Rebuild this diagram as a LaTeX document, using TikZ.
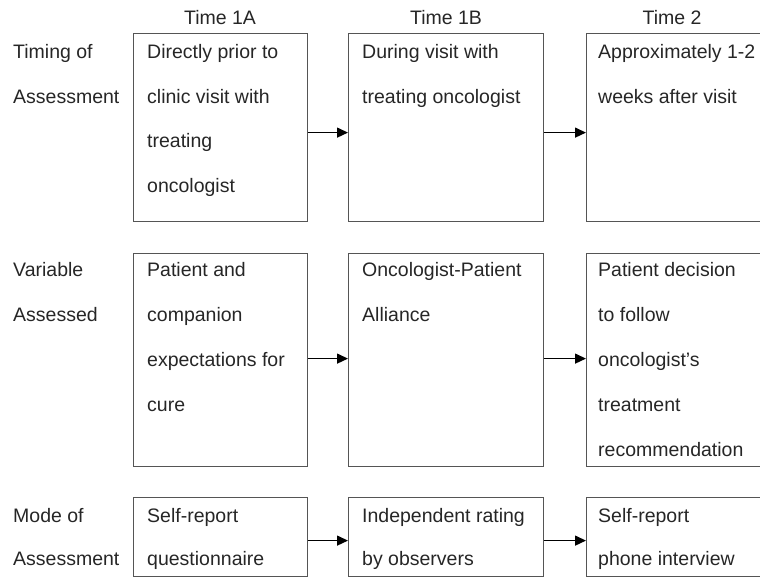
\documentclass[tikz,border=0pt]{standalone}
\usepackage{fontspec}
\setmainfont{Liberation Sans}
\usetikzlibrary{arrows.meta}
\definecolor{boxgray}{HTML}{555555}
\tikzset{
  cell/.style={draw=boxgray, line width=1.2pt, anchor=north west, inner sep=0pt},
  txt/.style={anchor=base west, inner sep=0pt, font=\fontsize{19.5}{22}\selectfont, text=black!85},
  head/.style={anchor=base, inner sep=0pt, font=\fontsize{19.5}{22}\selectfont, text=black!85},
  arr/.style={draw=black, line width=1.4pt, -{Triangle[length=11pt,width=10pt]}}
}
\begin{document}
\begin{tikzpicture}[x=1pt,y=-1pt]
\clip (0,0) rectangle (760,581);
% headers
\node[head] (h1) at (220,24) {Time 1A};
\node[head] (h2) at (446,24) {Time 1B};
\node[head] (h3) at (672,24) {Time 2};
% boxes
\node[cell, minimum width=174pt, minimum height=188pt] (b11) at (133,33) {};
\node[cell, minimum width=195pt, minimum height=188pt] (b12) at (348,33) {};
\node[cell, minimum width=180pt, minimum height=188pt] (b13) at (586,33) {};
\node[cell, minimum width=174pt, minimum height=213pt] (b21) at (133,253) {};
\node[cell, minimum width=195pt, minimum height=213pt] (b22) at (348,253) {};
\node[cell, minimum width=180pt, minimum height=213pt] (b23) at (586,253) {};
\node[cell, minimum width=174pt, minimum height=79pt] (b31) at (133,497) {};
\node[cell, minimum width=195pt, minimum height=79pt] (b32) at (348,497) {};
\node[cell, minimum width=180pt, minimum height=79pt] (b33) at (586,497) {};
% row labels
\foreach \t [count=\i] in {Timing of, Assessment}
  \node[txt] (r1-\i) at (13,{58.5+44.5*(\i-1)}) {\t};
\foreach \t [count=\i] in {Variable, Assessed}
  \node[txt] (r2-\i) at (13,{276+45*(\i-1)}) {\t};
\foreach \t [count=\i] in {Mode of, Assessment}
  \node[txt] (r3-\i) at (13,{522.5+43*(\i-1)}) {\t};
% row 1 texts
\foreach \t [count=\i] in {Directly prior to, clinic visit with, treating, oncologist}
  \node[txt] (t11-\i) at (147,{58.5+44.5*(\i-1)}) {\t};
\foreach \t [count=\i] in {During visit with, treating oncologist}
  \node[txt] (t12-\i) at (362,{58.5+44.5*(\i-1)}) {\t};
\foreach \t [count=\i] in {Approximately 1-2, weeks after visit}
  \node[txt] (t13-\i) at (598,{58.5+44.5*(\i-1)}) {\t};
% row 2 texts
\foreach \t [count=\i] in {Patient and, companion, expectations for, cure}
  \node[txt] (t21-\i) at (147,{276+45*(\i-1)}) {\t};
\foreach \t [count=\i] in {Oncologist-Patient, Alliance}
  \node[txt] (t22-\i) at (362,{276+45*(\i-1)}) {\t};
\foreach \t [count=\i] in {Patient decision, to follow, oncologist’s, treatment, recommendation}
  \node[txt] (t23-\i) at (598,{276+45*(\i-1)}) {\t};
% row 3 texts
\foreach \t [count=\i] in {Self-report, questionnaire}
  \node[txt] (t31-\i) at (147,{522.5+43*(\i-1)}) {\t};
\foreach \t [count=\i] in {Independent rating, by observers}
  \node[txt] (t32-\i) at (362,{522.5+43*(\i-1)}) {\t};
\foreach \t [count=\i] in {Self-report, phone interview}
  \node[txt] (t33-\i) at (598,{522.5+43*(\i-1)}) {\t};
% arrows
\draw[arr] ([yshift=-5pt]b11.east) -- ([yshift=-5pt]b12.west);
\draw[arr] ([yshift=-5pt]b12.east) -- ([yshift=-5pt]b13.west);
\draw[arr] ([yshift=1.5pt]b21.east) -- ([yshift=1.5pt]b22.west);
\draw[arr] ([yshift=1.5pt]b22.east) -- ([yshift=1.5pt]b23.west);
\draw[arr] ([yshift=-3.5pt]b31.east) -- ([yshift=-3.5pt]b32.west);
\draw[arr] ([yshift=-3.5pt]b32.east) -- ([yshift=-3.5pt]b33.west);
\end{tikzpicture}
\end{document}
